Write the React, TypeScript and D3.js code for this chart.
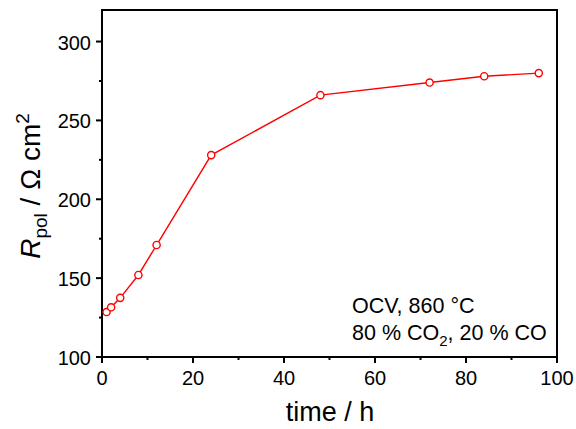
import React from "react";
import * as d3 from "d3";

const times = [1, 2, 4, 8, 12, 24, 48, 72, 84, 96];
const rpol = [128.5, 131.5, 137.5, 152, 171, 228, 266, 274, 278, 280];
const xTicks = [0, 20, 40, 60, 80, 100];
const xMinor = [10, 30, 50, 70, 90];
const yTicks = [100, 150, 200, 250, 300];
const yMinor = [125, 175, 225, 275];

export default function App() {
  const W = 576, H = 429;
  const L = 102, R = 557, T = 10, B = 357;
  const x = d3.scaleLinear().domain([0, 100]).range([L, R]);
  const y = d3.scaleLinear().domain([100, 320]).range([B, T]);
  const line = d3.line<number>().x((_, i) => x(times[i])).y((d) => y(d));
  const font = "'Liberation Sans', Arial, sans-serif";
  return (
    <svg width={W} height={H} style={{ position: "absolute", left: 0, top: 0, background: "#fff" }} fontFamily={font}>
      <rect x={L} y={T} width={R - L} height={B - T} fill="none" stroke="#000" strokeWidth={2} />
      {xTicks.map((t) => (
        <g key={"x" + t}>
          <line x1={x(t)} x2={x(t)} y1={B} y2={B + 6} stroke="#000" strokeWidth={2} />
          <text x={x(t)} y={385} fontSize={20} textAnchor="middle">{t}</text>
        </g>
      ))}
      {xMinor.map((t) => (
        <line key={"xm" + t} x1={x(t)} x2={x(t)} y1={B} y2={B + 3} stroke="#000" strokeWidth={2} />
      ))}
      {yTicks.map((t) => (
        <g key={"y" + t}>
          <line x1={L - 6} x2={L} y1={y(t)} y2={y(t)} stroke="#000" strokeWidth={2} />
          <text x={L - 11} y={y(t) + 8} fontSize={20} textAnchor="end">{t}</text>
        </g>
      ))}
      {yMinor.map((t) => (
        <line key={"ym" + t} x1={L - 3} x2={L} y1={y(t)} y2={y(t)} stroke="#000" strokeWidth={2} />
      ))}
      <path d={line(rpol) || ""} fill="none" stroke="#ff0000" strokeWidth={1.4} />
      {rpol.map((v, i) => (
        <circle key={i} cx={x(times[i])} cy={y(v)} r={3.6} fill="#fff" stroke="#ff0000" strokeWidth={1.4} />
      ))}
      <text x={330} y={421} fontSize={27} textAnchor="middle">time / h</text>
      <text transform={`translate(40, 186) rotate(-90)`} fontSize={28} textAnchor="middle">
        <tspan fontStyle="italic">R</tspan>
        <tspan fontSize={19} dy={7}>pol</tspan>
        <tspan dy={-7}> / Ω cm</tspan>
        <tspan fontSize={19} dy={-11}>2</tspan>
      </text>
      <text x={352} y={313} fontSize={21.5}>OCV, 860 °C</text>
      <text x={352} y={340} fontSize={21.5}>
        80 % CO<tspan fontSize={15} dy={6}>2</tspan><tspan dy={-6}>, 20 % CO</tspan>
      </text>
    </svg>
  );
}
